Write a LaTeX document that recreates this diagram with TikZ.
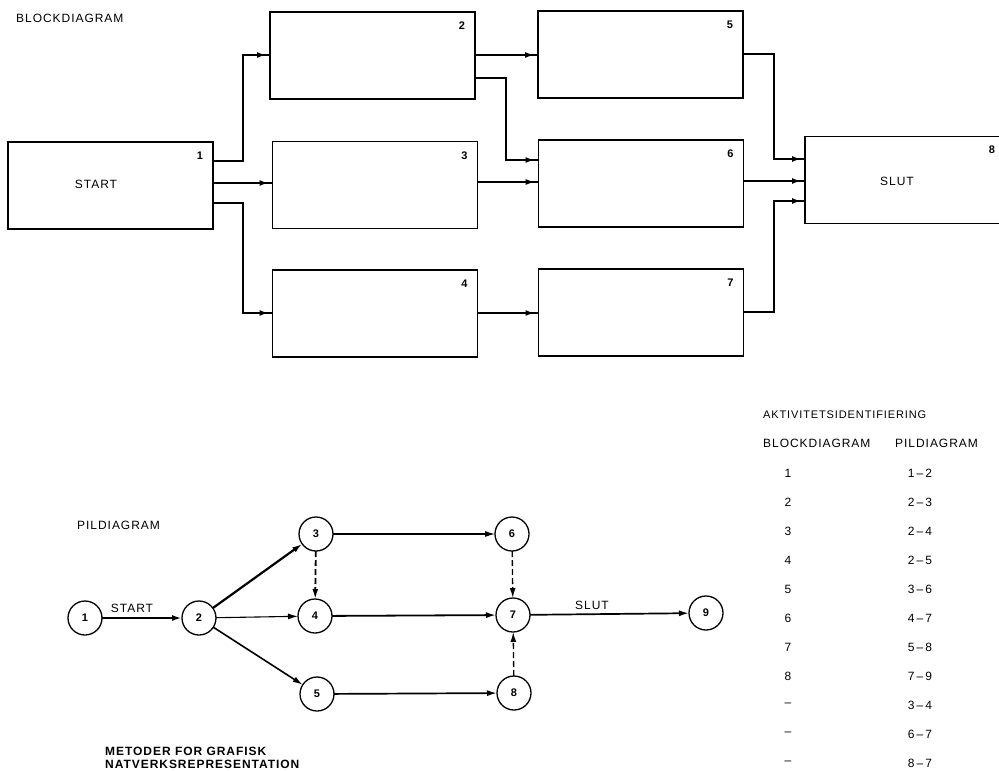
\documentclass[tikz,border=0pt]{standalone}
\usepackage{fontspec}
\setmainfont{Liberation Sans}[LetterSpace=8]
\usetikzlibrary{arrows.meta,decorations.markings}
\tikzset{
  blk/.style={draw, line width=1.7pt, minimum width=205pt, minimum height=87pt, inner sep=0pt, outer sep=0pt},
  bnum/.style={font=\fontsize{11}{11}\selectfont\bfseries, inner sep=0pt},
  tx/.style={font=\fontsize{12}{12}\selectfont, inner sep=0pt},
  txs/.style={font=\fontsize{11}{11}\selectfont, inner sep=0pt},
  txb/.style={font=\fontsize{12}{12}\selectfont\bfseries, inner sep=0pt},
  arr/.style={line width=1.6pt, postaction={decorate},
    decoration={markings, mark=at position -4pt with {\arrow{Latex[length=9pt,width=6pt]}}}},
  circ/.style={draw, circle, line width=1.3pt, minimum size=34pt, inner sep=0pt, outer sep=0pt,
    font=\fontsize{11}{11}\selectfont\bfseries},
  pa/.style={-{Latex[length=10pt,width=6pt]}},
  dsh/.style={dash pattern=on 6pt off 3pt}
}
\begin{document}
\begin{tikzpicture}[x=1pt,y=-1pt]
\useasboundingbox (0,0) rectangle (999,771);
\clip (0,0) rectangle (999,771);

% ---------------- BLOCKDIAGRAM ----------------
\node[tx, anchor=west] (tblock) at (16,18) {BLOCKDIAGRAM};

\node[blk] (b1) at (110.5,185.5) {};
\node[blk] (b2) at (372.5,55.5) {};
\node[blk] (b3) at (375,185) {};
\node[blk] (b4) at (375,313.5) {};
\node[blk] (b5) at (640.5,54.5) {};
\node[blk] (b6) at (641,183.5) {};
\node[blk] (b7) at (641,312.5) {};
\node[blk, minimum width=206pt] (b8) at (908,180) {};

\node[tx] (lstart) at ([xshift=-14.5pt,yshift=1pt]b1.center) {START};
\node[tx] (lslut) at ([xshift=-11pt,yshift=-1pt]b8.center) {SLUT};

\foreach \b/\n in {b1/1,b2/2,b3/3,b4/4,b5/5,b6/6,b7/7}
  \node[bnum] (n\b) at ([shift={(-13,14)}]\b.north east) {\n};
\node[bnum] (nb8) at (992,150) {8};

\draw[arr] (b1.east |- 0,161) -- (243,161) -- (243,55) -- (b2.west |- 0,55);
\draw[arr] (b1.east |- 0,183) -- (b3.west |- 0,183);
\draw[arr] (b1.east |- 0,203) -- (243,203) -- (243,313) -- (b4.west |- 0,313);
\draw[arr] (b2.east |- 0,55) -- (b5.west |- 0,55);
\draw[arr] (b2.east |- 0,78) -- (506,78) -- (506,160) -- (b6.west |- 0,160);
\draw[arr, line width=1.1pt] (b3.east |- 0,182) -- (b6.west |- 0,182);
\draw[arr] (b4.east |- 0,313) -- (b7.west |- 0,313);
\draw[arr] (b5.east |- 0,54) -- (774,54) -- (774,159) -- (b8.west |- 0,159);
\draw[arr] (b6.east |- 0,181) -- (b8.west |- 0,181);
\draw[arr] (b7.east |- 0,312) -- (774,312) -- (774,201) -- (b8.west |- 0,201);

% ---------------- PILDIAGRAM ----------------
\node[tx, anchor=west] (tpil) at (77,525) {PILDIAGRAM};

\node[circ] (p1) at (85,618) {1};
\node[circ] (p2) at (199,618) {2};
\node[circ] (p3) at (316,534) {3};
\node[circ] (p4) at (315,616) {4};
\node[circ] (p5) at (317,694) {5};
\node[circ] (p6) at (512,534) {6};
\node[circ] (p7) at (513,615) {7};
\node[circ] (p8) at (514,693) {8};
\node[circ] (p9) at (706,613) {9};

\draw[pa, line width=2.6pt] (p1) -- (p2);
\draw[pa, line width=2.2pt] (p2) -- (p3);
\draw[pa, line width=1.1pt] (p2) -- (p4);
\draw[pa, line width=1.6pt] (p2) -- (p5);
\draw[pa, line width=1.1pt] (p3) -- (p6);
\draw[pa, line width=1.8pt] (p4) -- (p7);
\draw[pa, line width=1.7pt] (p5) -- (p8);
\draw[pa, line width=1.7pt] (p7) -- (p9);
\draw[pa, dsh, line width=1.8pt] (p3) -- (p4);
\draw[pa, dsh, line width=1.3pt] (p6) -- (p7);
\draw[pa, dsh, line width=1.3pt] (p8) -- (p7);

\node[tx] (lstart2) at (132,608) {START};
\node[tx] (lslut2) at (592,605) {SLUT};

\node[txb, anchor=base west] (tmet1) at (105,755) {METODER FOR GRAFISK};
\node[txb, anchor=base west] (tmet2) at (105,768) {NATVERKSREPRESENTATION};

% ---------------- TABLE ----------------
\node[txs, anchor=west] (thead) at (763,415) {AKTIVITETSIDENTIFIERING};
\node[tx, anchor=west] (tcol1) at (763,443) {BLOCKDIAGRAM};
\node[tx, anchor=west] (tcol2) at (895,443) {PILDIAGRAM};
\foreach \i/\a/\p in {1/1/1\,–\,2, 2/2/2\,–\,3, 3/3/2\,–\,4, 4/4/2\,–\,5, 5/5/3\,–\,6, 6/6/4\,–\,7,
                      7/7/5\,–\,8, 8/8/7\,–\,9, 9/–/3\,–\,4, 10/–/6\,–\,7, 11/–/8\,–\,7} {
  \node[tx] (ra\i) at (788,{473+29*(\i-1)}) {\a};
  \node[tx] (rp\i) at (920,{473+29*(\i-1)}) {\p};
}
\end{tikzpicture}
\end{document}
